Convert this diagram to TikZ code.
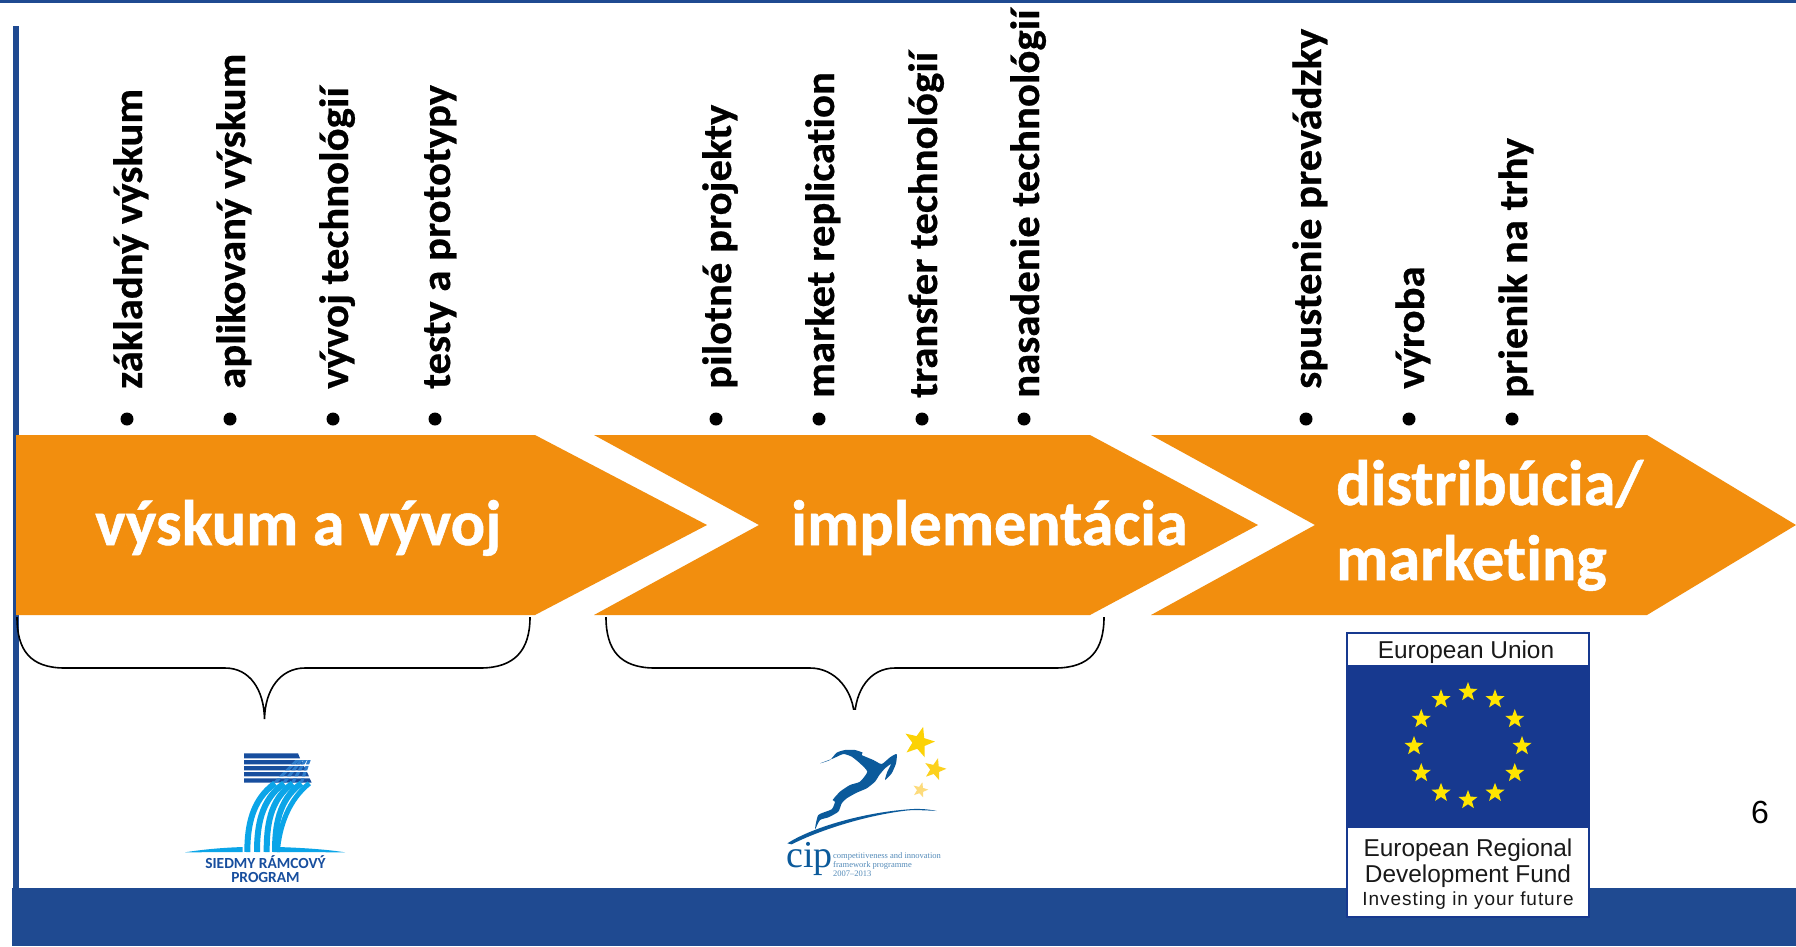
\documentclass[tikz,border=0pt]{standalone}
\usepackage{fontspec}
\setmainfont{Carlito}[Ligatures=NoCommon]
\newfontfamily\arialf{Liberation Sans}
\newfontfamily\serf{Liberation Serif}
\usetikzlibrary{shapes.geometric}
\definecolor{band}{HTML}{1F4A91}
\definecolor{arr}{HTML}{F28E0E}
\definecolor{eub}{HTML}{17398F}
\definecolor{eustar}{HTML}{FFE600}
\definecolor{fpdark}{HTML}{174E9E}
\definecolor{fpmid}{HTML}{2E7CCB}
\definecolor{fplight}{HTML}{0BA5E8}
\definecolor{cipb}{HTML}{0B5A9B}
\tikzset{
 chev/.style={fill=arr,draw=none},
 vlabel/.style={rotate=90,anchor=base west,inner sep=0pt,font=\bfseries\fontsize{41}{41}\selectfont\addfontfeature{FakeStretch=1.042,FakeBold=0.6}},
 bull/.style={circle,fill=black,inner sep=0pt,minimum size=13pt},
 big/.style={text=white,inner sep=0pt,anchor=base west,font=\bfseries\fontsize{64.2}{64.2}\selectfont\addfontfeature{FakeBold=0.8}},
 brace/.style={draw=black,line width=1.6pt},
 eustarn/.style={star,star points=5,star point ratio=2.4,fill=eustar,inner sep=0pt,minimum size=20pt,draw=none},
 cipstar/.style={star,star points=5,star point ratio=2.4,inner sep=0pt,rotate=-15},
 eutxt/.style={inner sep=0pt,anchor=base,text=black!90,font=\arialf\fontsize{24.4}{24.4}\selectfont},
 fptxt/.style={inner sep=0pt,text=fpdark,font=\bfseries\fontsize{15.4}{15.4}\selectfont},
 ciptiny/.style={inner sep=0pt,anchor=base west,text=cipb!70,font=\serf\fontsize{8.5}{8.5}\selectfont},
}
\begin{document}
\begin{tikzpicture}[x=1pt,y=-1pt]
\useasboundingbox (0,0) rectangle (1796,946);
\fill[white] (0,0) rectangle (1796,946);
% frame
\fill[band] (0,0) rectangle (1796,3);
\fill[band] (12.5,26) rectangle (18.5,888);
\fill[band] (12,888) rectangle (1796,946);
% chevrons
\path[chev] (16,435) -- (535,435) -- (707,525) -- (535,615) -- (16,615) -- cycle;
\path[chev] (594,435) -- (1090,435) -- (1258,525) -- (1090,615) -- (594,615) -- (759,525) -- cycle;
\path[chev] (1151,435) -- (1647,435) -- (1796,525) -- (1647,615) -- (1151,615) -- (1315,525) -- cycle;
\node[big] (t1) at (95,545) {výskum a vývoj};
\node[big] (t2) at (791,545) {implementácia};
\node[big] (t3) at (1336,505) {distribúcia/};
\node[big] (t4) at (1336,580) {marketing};
% labels
\foreach \n/\x/\y/\t in {a/142/389/základný výskum,b/245/389/aplikovaný výskum,c/348/389/vývoj technológií,d/450/389/testy a prototypy,
 e/731/389/pilotné projekty,f/834/398/market replication,g/937/398/transfer technológií,h/1039/398/nasadenie technológií,
 i/1321/389/spustenie prevádzky,j/1424/389/výroba,k/1527/398/prienik na trhy}{
 \node[vlabel] (l\n) at (\x,\y) {\t};
}
\foreach \n/\x in {a/127,b/230,c/333,d/435,e/716,f/819,g/922,h/1024,i/1306,j/1409,k/1512}{
 \node[bull] (b\n) at (\x,419) {};
}
% braces
\draw[brace] (17,617) .. controls (17,650) and (30,668) .. (65,668) -- (225,668) .. controls (250,668) and (264,690) .. (264.5,719) .. controls (265,690) and (280,668) .. (305,668) -- (480,668) .. controls (515,668) and (530,650) .. (530,617);
\draw[brace] (606,617) .. controls (606,650) and (620,668) .. (655,668) -- (810,668) .. controls (835,668) and (854,690) .. (854.5,719) .. controls (855,690) and (870,668) .. (895,668) -- (1055,668) .. controls (1090,668) and (1104,650) .. (1104,617);
% FP7 logo
\begin{scope}[shift={(160,720)},xscale=1/3,yscale=1/3]
 \foreach \i/\a/\b/\r in {0/100/115/420,1/120/133/430,2/138/151/438,3/156/169/447,4/175/188/455}{
  \fill[fpdark] (252,\a) -- (\r-6,\a) -- (\r,\b) -- (252,\b) -- cycle;
 }
 \begin{scope}
  \clip (252,120) rectangle (470,133) (252,138) rectangle (470,151) (252,156) rectangle (470,169) (252,175) rectangle (470,188);
  \foreach \xa/\xb in {345/420,372/430,398/440,424/450}{
   \draw[fpmid,line width=3pt] (\xa,188) -- (\xb,112);
  }
 \end{scope}
 \foreach \bx/\tx in {262/345,291/372,320/398,345/424}{
  \draw[fplight,line width=6pt] (\bx,396) .. controls (\bx,320) and (\tx-70,240) .. (\tx,190);
 }
 \draw[fplight,line width=5pt] (352,396) .. controls (358,320) and (385,240) .. (448,190);
 \fill[fplight] (75,397) .. controls (130,388) and (190,383) .. (248,381) -- (248,396) -- cycle;
 \fill[fplight] (555,397) .. controls (500,388) and (420,383) .. (353,381) -- (353,396) -- cycle;
\end{scope}
\node[fptxt] (fp1) at (265.5,862) {SIEDMY RÁMCOVÝ};
\node[fptxt] (fp2) at (265.5,877) {PROGRAM};
% CIP logo
\fill[white] (756,710) rectangle (953,888);
\begin{scope}[shift={(810,740)},xscale=1/3,yscale=1/3]
 \fill[cipb] plot[smooth cycle,tension=0.35] coordinates {
  (30,70) (60,60) (80,38) (105,30) (135,30) (158,38) (155,45) (190,60) (215,72) (240,52) (260,42) (258,70) (245,100) (225,120) (232,95) (243,72) (225,85) (208,105) (195,125) (170,145) (140,158) (110,175) (95,190) (85,215) (55,232) (30,240) (15,268) (25,225) (65,208) (75,185) (68,180) (90,155) (120,135) (150,125) (172,95) (150,70) (125,50) (100,42) (70,55)};
\end{scope}
\begin{scope}[shift={(740,710)},xscale=1/3,yscale=1/3]
 \fill[cipb] (142,400) .. controls (220,350) and (380,305) .. (520,297) .. controls (540,296) and (570,298) .. (590,303) .. controls (550,300) and (520,300) .. (505,301) .. controls (380,315) and (240,360) .. (155,403) -- cycle;
 \node[cipstar,fill=yellow!70!orange,minimum size=32pt] (s1) at (537,97) {};
 \node[cipstar,fill=yellow!65!orange!90!white,minimum size=23pt] (s2) at (585,178) {};
 \node[cipstar,fill=yellow!50!orange!50!white,minimum size=16pt] (s3) at (541,240) {};
\end{scope}
\node[inner sep=0pt,anchor=base west,text=cipb,font=\serf\fontsize{38}{38}\selectfont] (cip) at (786,867) {cip};
\node[ciptiny] (c1) at (833,858) {competitiveness and innovation};
\node[ciptiny] (c2) at (833,867.5) {framework programme};
\node[ciptiny] (c3) at (833,876.5) {2007–2013};
% EU logo
\fill[eub] (1346,632) rectangle (1590,918);
\fill[white] (1348,634) rectangle (1588,665);
\fill[white] (1348,828) rectangle (1588,916);
\foreach \i in {0,...,11}{
 \node[eustarn] (eu\i) at ({1468+54*cos(30*\i)},{746+54*sin(30*\i)}) {};
}
\node[eutxt] (e1) at (1466,658) {European Union};
\node[eutxt] (e2) at (1468,856) {European Regional};
\node[eutxt] (e3) at (1468,882) {Development Fund};
\node[inner sep=0pt,anchor=base,text=black!90,font=\arialf\fontsize{19}{19}\selectfont] (e4) at (1468,905) {\addfontfeature{LetterSpace=5}Investing in your future};
% page number
\node[inner sep=0pt,anchor=center,font=\arialf\fontsize{32}{32}\selectfont] (pg) at (1760,812) {6};
\end{tikzpicture}
\end{document}
